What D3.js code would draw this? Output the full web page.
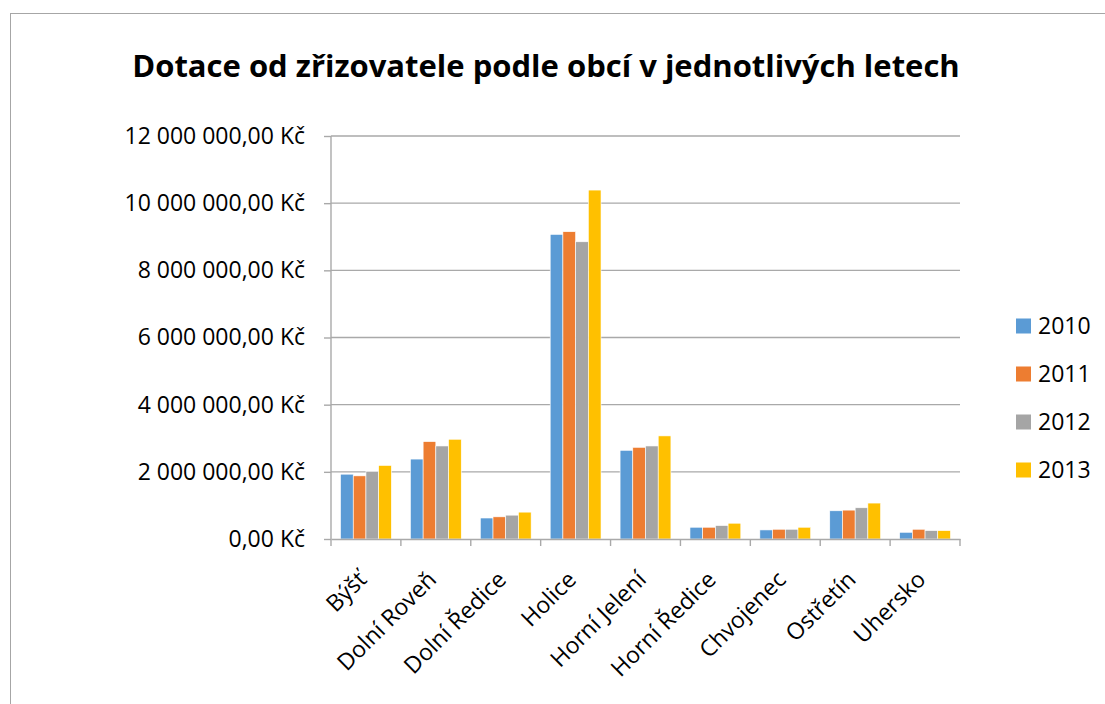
<!DOCTYPE html>
<html>
<head>
<meta charset="utf-8">
<script src="https://cdn.jsdelivr.net/npm/d3@7"></script>
<style>
  body { margin: 0; background: #fff; }
  text { font-family: "Open Sans", "Noto Sans", sans-serif; }
</style>
</head>
<body>
<div id="chart"></div>
<script>
var categories = ['Býšť', 'Dolní Roveň', 'Dolní Ředice', 'Holice', 'Horní Jelení', 'Horní Ředice', 'Chvojenec', 'Ostřetín', 'Uhersko'];
var years = ['2010', '2011', '2012', '2013'];
var v2010 = [1930000, 2380000, 625000, 9070000, 2640000, 350000, 270000, 840000, 200000];
var v2011 = [1880000, 2900000, 660000, 9150000, 2730000, 350000, 290000, 860000, 290000];
var v2012 = [2010000, 2770000, 710000, 8850000, 2770000, 400000, 290000, 930000, 250000];
var v2013 = [2190000, 2970000, 800000, 10390000, 3070000, 470000, 350000, 1070000, 250000];
var yTicks = [0, 2000000, 4000000, 6000000, 8000000, 10000000, 12000000];
var colors = ['#5B9BD5', '#ED7D31', '#A5A5A5', '#FFC000'];

var series = [v2010, v2011, v2012, v2013];
var width = 1105, height = 704;

var svg = d3.select('#chart').append('svg')
    .attr('width', width)
    .attr('height', height);

// chart area border (runs off the page on right and bottom)
svg.append('rect')
    .attr('x', 10.5).attr('y', 13.5)
    .attr('width', 1200).attr('height', 800)
    .attr('fill', 'none')
    .attr('stroke', '#A6A6A6')
    .attr('stroke-width', 1);

svg.append('text')
    .attr('x', 546).attr('y', 77)
    .attr('text-anchor', 'middle')
    .style('font-size', '31px')
    .style('font-weight', 'bold')
    .text('Dotace od zřizovatele podle obcí v jednotlivých letech');

var x = d3.scaleBand().domain(categories).range([331, 960]);
var y = d3.scaleLinear().domain([0, 12000000]).range([539, 136]);
var inner = d3.scaleBand().domain(years)
    .range([x.bandwidth() * 0.75 / 5.5, x.bandwidth() - x.bandwidth() * 0.75 / 5.5]);

var fmt = function (d) {
    var s = d3.format(',.2f')(d);
    return s.replace(/,/g, ' ').replace('.', ',') + ' Kč';
};

// gridlines
svg.append('g').selectAll('line').data(yTicks.slice(1)).enter().append('line')
    .attr('x1', 331).attr('x2', 960)
    .attr('y1', d => y(d)).attr('y2', d => y(d))
    .attr('stroke', '#A9A9A9').attr('stroke-width', 1.4);

// y axis
var yAxis = svg.append('g').attr('transform', 'translate(331,0)')
    .call(d3.axisLeft(y).tickValues(yTicks).tickSize(7).tickFormat(fmt));
yAxis.select('.domain').attr('stroke', '#A9A9A9').attr('stroke-width', 1.4).attr('d', 'M0,136V539');
yAxis.selectAll('.tick line').attr('stroke', '#A9A9A9').attr('stroke-width', 1.4);
yAxis.selectAll('.tick text')
    .attr('x', -26)
    .style('font-size', '23px')
    .style('font-family', '"Open Sans", sans-serif')
    .attr('fill', '#000');

// bars
var groups = svg.append('g').selectAll('g').data(series).enter().append('g')
    .attr('fill', (d, i) => colors[i]);
groups.selectAll('rect')
    .data((d, i) => d.map((v, j) => ({ cat: categories[j], year: years[i], v: v })))
    .enter().append('rect')
    .attr('x', d => x(d.cat) + inner(d.year))
    .attr('width', inner.bandwidth())
    .attr('y', d => y(d.v))
    .attr('height', d => y(0) - y(d.v))
    .attr('stroke', '#fff').attr('stroke-width', 0.6);

// x axis
var xAxis = svg.append('g').attr('transform', 'translate(0,539)')
    .call(d3.axisBottom(x).tickSize(0).tickSizeOuter(0));
xAxis.select('.domain').attr('stroke', '#A9A9A9').attr('stroke-width', 1.4);
xAxis.selectAll('.tick line').remove();
xAxis.append('g').selectAll('line').data(x.domain().map(c => x(c)).concat([960])).enter().append('line')
    .attr('x1', d => d).attr('x2', d => d).attr('y1', 0).attr('y2', 7)
    .attr('stroke', '#A9A9A9').attr('stroke-width', 1.4);
xAxis.selectAll('.tick text')
    .attr('y', 0).attr('dy', 0)
    .attr('text-anchor', 'end')
    .attr('transform', 'translate(2,42) rotate(-45)')
    .style('font-size', '23px')
    .style('font-family', '"Open Sans", sans-serif')
    .attr('fill', '#000');

// legend
var legend = svg.append('g').selectAll('g').data(years).enter().append('g')
    .attr('transform', (d, i) => `translate(1016,${326 + i * 48})`);
legend.append('rect')
    .attr('x', 0).attr('y', -7.5)
    .attr('width', 15).attr('height', 15)
    .attr('fill', (d, i) => colors[i]);
legend.append('text')
    .attr('x', 22).attr('y', 0).attr('dy', '0.35em')
    .style('font-size', '23px')
    .text(d => d);
</script>
</body>
</html>
